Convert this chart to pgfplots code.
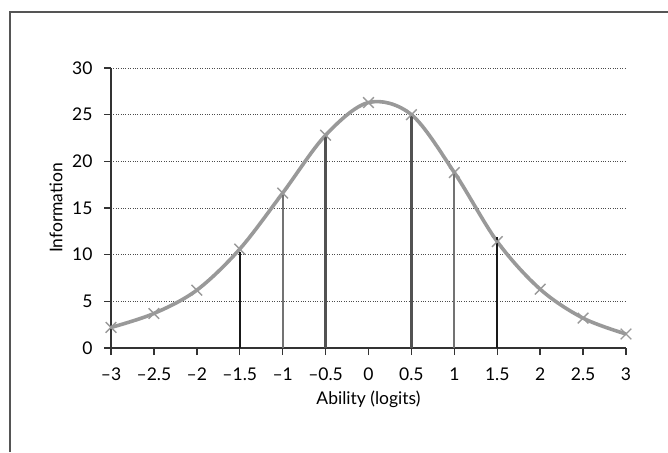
\documentclass[border=0pt]{standalone}
\usepackage{pgfplots}
\pgfplotsset{compat=1.18}
\usepackage{fontspec}
\setmainfont{Lato}
\definecolor{curvegray}{HTML}{999999}
\definecolor{axisgray}{HTML}{333333}
\definecolor{framegray}{HTML}{555555}
\begin{document}
\begin{tikzpicture}[x=1pt,y=1pt,font=\fontsize{17.5}{21}\selectfont]
\useasboundingbox (0,0) rectangle (668,452);
\draw[framegray, line width=2pt] (9.5,0) -- (9.5,439.5) -- (670,439.5);
\begin{axis}[
  at={(111pt,104pt)}, anchor=south west,
  scale only axis, width=515pt, height=280pt,
  xmin=-3, xmax=3, ymin=0, ymax=30,
  axis lines*=left,
  axis line style={axisgray, line width=1.4pt},
  tick style={axisgray, line width=1.4pt},
  tick align=outside, major tick length=7pt,
  /pgf/number format/assume math mode=true,
  xtick={-3,-2.5,-2,-1.5,-1,-0.5,0,0.5,1,1.5,2,2.5,3},
  xticklabels={–3,–2.5,–2,–1.5,–1,–0.5,0,0.5,1,1.5,2,2.5,3},
  ytick={0,5,10,15,20,25,30},
  yticklabels={0,5,10,15,20,25,30},
  ymajorgrids,
  major grid style={dotted, black!70, line width=0.9pt},
  xlabel={Ability (logits)},
  ylabel={Information},
  xlabel style={at={(axis description cs:0.5,0)}, anchor=center, yshift=-51pt},
  ylabel style={at={([xshift=-55pt]axis description cs:0,0.5)}, anchor=center},
  label style={font=\fontsize{17.5}{21}\selectfont},
  ticklabel style={font=\fontsize{17.5}{21}\selectfont},
  xticklabel style={yshift=-9pt},
  yticklabel style={xshift=-8pt},
  clip=false,
]
\addplot[curvegray, line width=3.6pt, smooth, tension=0.55, mark=x, mark size=7.5pt,
  mark options={line width=1.4pt, curvegray}] coordinates {
  (-3,2.2) (-2.5,3.7) (-2,6.2) (-1.5,10.6) (-1,16.6) (-0.5,22.8)
  (0,26.3) (0.5,25.0) (1,18.8) (1.5,11.4) (2,6.3) (2.5,3.2) (3,1.5)
};
\addplot[ycomb, black!90, line width=2.3pt, mark=none] coordinates {(-1.5,10.3) (1.5,11.9)};
\addplot[ycomb, black!55, line width=2.3pt, mark=none] coordinates {(-1,16.4) (1,18.9)};
\addplot[ycomb, black!68, line width=2.3pt, mark=none] coordinates {(-0.5,22.7) (0.5,25.0)};
\end{axis}
\end{tikzpicture}
\end{document}
